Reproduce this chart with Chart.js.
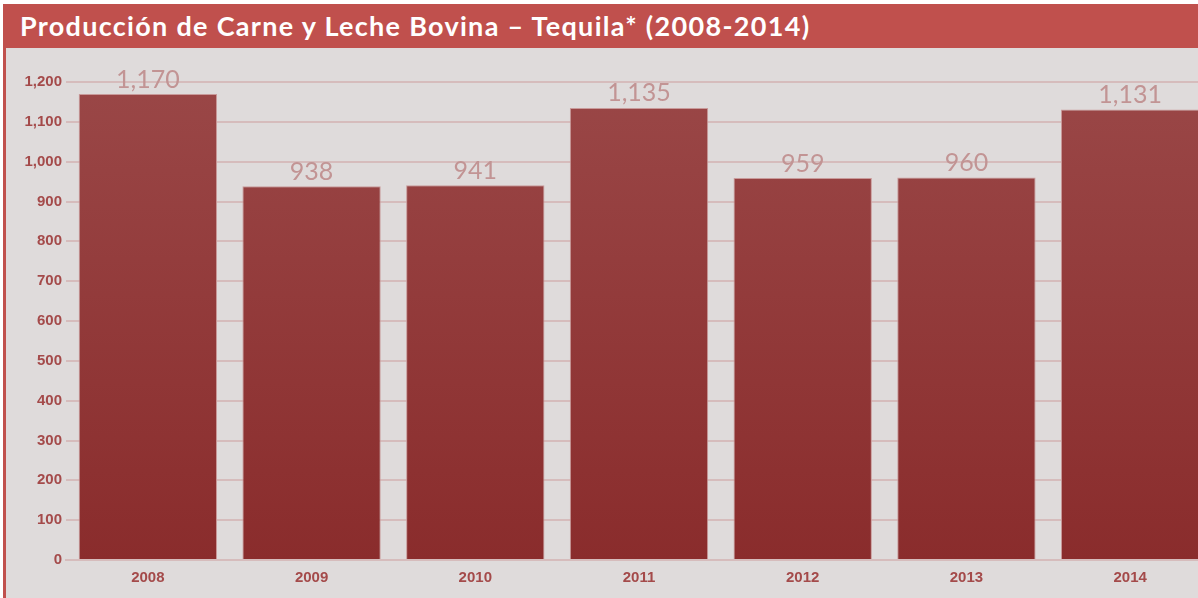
<!DOCTYPE html>
<html lang="es">
  <head>
    <meta charset="UTF-8" />
    <script src="https://cdn.jsdelivr.net/npm/chart.js"></script>
    <title>Producción de Carne y Leche Bovina</title>
    <style>
      html, body {
        margin: 0;
        width: 1198px;
        height: 598px;
        overflow: hidden;
        background: #fff;
      }
      .panel {
        position: absolute;
        left: 3px;
        top: 4px;
        width: 1195px;
        height: 594px;
        background: #dfdbdb;
        border-left: 3px solid #c0504d;
        box-sizing: border-box;
        overflow: hidden;
      }
      .title {
        position: absolute;
        left: 0;
        top: 0;
        width: 1195px;
        height: 44px;
        background: #c0504d;
        color: #fff;
        font-family: Lato, "Open Sans", sans-serif;
        font-weight: bold;
        font-size: 27px;
        letter-spacing: 1.3px;
        line-height: 44px;
        padding-left: 14px;
        box-sizing: border-box;
        white-space: nowrap;
      }
      #chart-wrapper {
        position: absolute;
        left: 0;
        top: 44px;
        width: 1206px;
        height: 550px;
      }
    </style>
  </head>
  <body>
    <div class="panel">
      <div class="title">Producción de Carne y Leche Bovina – Tequila* (2008-2014)</div>
      <div id="chart-wrapper">
        <canvas id="chart" width="1206" height="550"></canvas>
      </div>
    </div>
    <script>
      // setup area
      const years = ['2008', '2009', '2010', '2011', '2012', '2013', '2014'];
      const production = [1170, 938, 941, 1135, 959, 960, 1131];
      const yMax = 1200;
      const yStep = 100;

      // bar fill: dark red, a bit lighter on top
      function barFill(ctx) {
        const area = ctx.chart.chartArea;
        if (!area) return '#8f3535';
        const g = ctx.chart.ctx.createLinearGradient(0, area.top, 0, area.bottom);
        g.addColorStop(0, '#9a4747');
        g.addColorStop(1, '#8a2c2c');
        return g;
      }

      const valueLabels = {
        id: 'valueLabels',
        afterDatasetsDraw(chart) {
          const c = chart.ctx;
          const meta = chart.getDatasetMeta(0);
          c.save();
          c.font = '25px Lato, "Open Sans", sans-serif';
          c.fillStyle = '#c29494';
          c.textAlign = 'center';
          c.textBaseline = 'bottom';
          meta.data.forEach((bar, i) => {
            c.fillText(production[i].toLocaleString('en-US'), bar.x, bar.y - 2);
          });
          c.restore();
        },
      };

      // Render area
      const chart = new Chart(document.getElementById('chart'), {
        type: 'bar',
        data: {
          labels: years,
          datasets: [
            {
              data: production,
              backgroundColor: barFill,
              borderColor: '#c99a9a',
              borderWidth: 1,
              categoryPercentage: 1,
              barPercentage: 0.845,
            },
          ],
        },
        options: {
          responsive: false,
          animation: false,
          layout: {
            padding: { top: 34, right: 0, left: 0, bottom: 0 },
          },
          plugins: {
            legend: { display: false },
            tooltip: { enabled: false },
          },
          scales: {
            x: {
              afterFit: (s) => { s.height = 38; },
              grid: {
                display: false,
                drawTicks: false,
              },
              border: { color: '#d6bcbc', width: 2 },
              ticks: {
                padding: 9,
                color: '#a44a4a',
                font: { family: 'Arial, "Liberation Sans"', size: 15, weight: 'bold' },
              },
            },
            y: {
              min: 0,
              max: yMax,
              afterFit: (s) => { s.width = 60; },
              grid: {
                color: '#d6bcbc',
                lineWidth: 2,
                drawTicks: false,
              },
              border: { display: false },
              ticks: {
                stepSize: yStep,
                padding: 4,
                color: '#a44a4a',
                font: { family: 'Arial, "Liberation Sans"', size: 15, weight: 'bold' },
                callback: (v) => v.toLocaleString('en-US'),
              },
            },
          },
        },
        plugins: [valueLabels],
      });
    </script>
  </body>
</html>
